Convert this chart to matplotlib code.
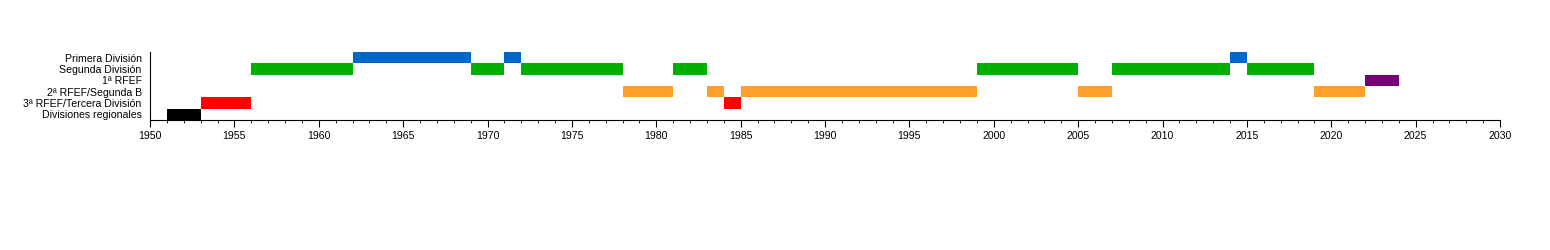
import matplotlib
matplotlib.use('Agg')
import matplotlib.pyplot as plt
from matplotlib.ticker import MultipleLocator

# divisiones, de abajo hacia arriba
divisions = ['Divisiones regionales', '3ª RFEF/Tercera División', '2ª RFEF/Segunda B',
             '1ª RFEF', 'Segunda División', 'Primera División']

# temporadas por categoría: (inicio, fin)
regionales = [(1951, 1953)]
tercera = [(1953, 1956), (1984, 1985)]
segunda_b = [(1978, 1981), (1983, 1984), (1985, 1999), (2005, 2007), (2019, 2022)]
primera_rfef = [(2022, 2024)]
segunda = [(1956, 1962), (1969, 1971), (1972, 1978), (1981, 1983),
           (1999, 2005), (2007, 2014), (2015, 2019)]
primera = [(1962, 1969), (1971, 1972), (2014, 2015)]

spans = [regionales, tercera, segunda_b, primera_rfef, segunda, primera]
colors = ['#000000', '#ff0000', '#ffa02a', '#770077', '#00b000', '#0066cc']

plt.rcParams['font.family'] = ['Liberation Sans', 'DejaVu Sans']

fig = plt.figure(figsize=(15.5, 2.5), dpi=100)
ax = fig.add_axes([150 / 1550, 1 - 120 / 250, 1350 / 1550, 68 / 250])

for i, (periods, col) in enumerate(zip(spans, colors)):
    ax.broken_barh([(a, b - a) for a, b in periods], (i - 0.5, 1.0), facecolors=col)

ax.set_xlim(1950, 2030)
ax.set_ylim(-0.5, 5.5)
ax.set_yticks(range(len(divisions)))
ax.set_yticklabels(divisions, fontsize=7.6)
ax.tick_params(axis='y', length=0, pad=6)
ax.xaxis.set_major_locator(MultipleLocator(5))
ax.xaxis.set_minor_locator(MultipleLocator(1))
ax.tick_params(axis='x', which='major', length=5, width=0.8, labelsize=7.6, pad=3)
ax.tick_params(axis='x', which='minor', length=2.5, width=0.6)
for s in ['top', 'right']:
    ax.spines[s].set_visible(False)
ax.spines['left'].set_linewidth(0.8)
ax.spines['bottom'].set_linewidth(0.8)

plt.savefig('out.png', dpi=100)
